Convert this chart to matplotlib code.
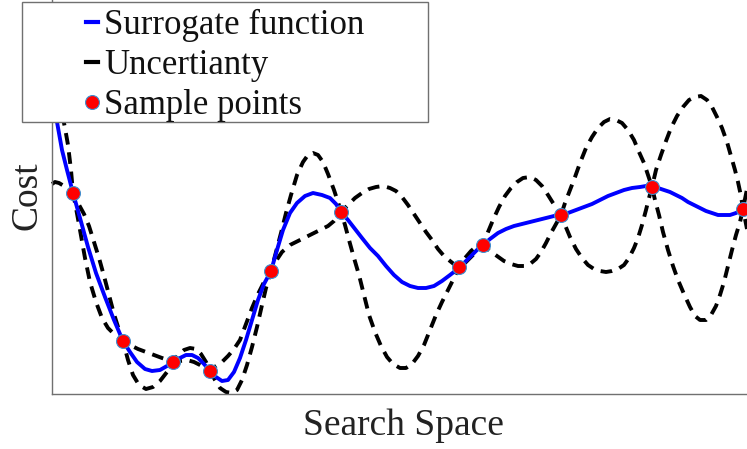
import numpy as np
import matplotlib
matplotlib.use("Agg")
import matplotlib.pyplot as plt
from matplotlib.lines import Line2D
from matplotlib.patches import Rectangle

plt.rcParams['font.family'] = ['Liberation Serif', 'DejaVu Serif']

# values (screen units: x to the right, y downward)
surrogate = [(52, 95), (57, 122), (62, 150), (67, 170), (73, 193), (80, 218), (88, 247),
             (96, 273), (105, 297), (114, 320), (123, 341), (130, 352), (137, 362), (145, 369),
             (152, 371), (160, 370), (167, 366), (173, 362), (180, 358), (186, 355), (192, 355),
             (198, 358), (204, 364), (210, 371), (216, 377), (222, 381), (228, 380), (234, 372),
             (240, 358), (246, 340), (252, 320), (258, 300), (264, 284), (271, 271), (277, 250),
             (283, 230), (290, 213), (297, 203), (305, 196), (313, 193), (322, 195), (330, 198),
             (336, 204), (341, 212), (348, 220), (355, 229), (362, 238), (370, 248), (378, 256),
             (386, 266), (394, 275), (402, 282), (410, 286), (418, 288), (426, 288), (434, 286),
             (442, 281), (450, 275), (459, 268), (465, 262), (471, 256), (477, 250), (483, 245),
             (490, 239), (498, 233), (506, 229), (514, 226), (522, 224), (530, 222), (538, 220),
             (546, 218), (554, 216), (561, 215), (568, 213), (576, 210), (584, 207), (592, 204),
             (600, 200), (608, 196), (616, 193), (624, 190), (632, 188), (640, 187), (646, 186),
             (652, 187), (658, 188), (664, 190), (670, 192), (676, 195), (682, 198), (688, 202),
             (694, 205), (700, 208), (706, 211), (712, 213), (718, 215), (724, 215), (730, 215),
             (736, 213), (743, 209), (747, 206)]

band_a = [(58, 95), (60, 105), (63, 118), (65, 128), (68, 145), (71, 170), (73, 193),
          (76, 208), (80, 230), (85, 258), (90, 282), (96, 302), (102, 318), (108, 328),
          (115, 335), (123, 341),
          (130, 345), (138, 349), (146, 352), (154, 355), (162, 358), (168, 360), (173, 362),
          (180, 361), (187, 360), (194, 362), (200, 365), (205, 368), (210, 371),
          (216, 366), (222, 362), (228, 356), (234, 349), (240, 340), (246, 324), (252, 308),
          (258, 294), (264, 282), (271, 271),
          (276, 261), (282, 252), (290, 245), (300, 240), (310, 235), (320, 230), (328, 226),
          (334, 221), (341, 212),
          (348, 205), (355, 198), (362, 193), (369, 189), (376, 187), (383, 186), (390, 188),
          (396, 191), (402, 197), (408, 205), (414, 214), (420, 223), (426, 232), (432, 240),
          (438, 249), (444, 256), (450, 261), (455, 265), (459, 267),
          (465, 263), (471, 257), (477, 251), (483, 245),
          (488, 232), (493, 220), (499, 207), (505, 196), (511, 188), (517, 182), (523, 178),
          (530, 177), (536, 180), (542, 186), (548, 195), (553, 203), (557, 209), (561, 215),
          (565, 225), (570, 237), (576, 249), (582, 258), (588, 265), (594, 269), (600, 271),
          (606, 272), (612, 271), (618, 269), (624, 265), (629, 258), (634, 248), (638, 238),
          (642, 225), (646, 210), (649, 198), (652, 187),
          (656, 170), (661, 155), (666, 141), (671, 128), (677, 116), (683, 107), (689, 100),
          (695, 97), (701, 96), (707, 100), (712, 107), (717, 117), (722, 128), (727, 142),
          (731, 156), (735, 170), (738, 182), (741, 196), (743, 209),
          (745, 219), (747, 229)]

band_b = [(52, 184), (55, 182), (59, 183), (64, 186), (69, 190), (73, 193),
          (78, 203), (84, 214), (89, 226), (94, 242), (99, 258), (104, 276), (109, 295),
          (114, 314), (119, 330), (123, 341),
          (128, 360), (133, 375), (139, 385), (146, 389), (153, 387), (160, 381), (167, 372),
          (173, 362),
          (178, 355), (184, 350), (190, 348), (196, 349), (201, 354), (206, 362), (210, 371),
          (215, 380), (220, 388), (226, 392), (232, 393), (237, 390), (242, 380), (247, 365),
          (252, 347), (257, 327), (262, 305), (266, 288), (271, 271),
          (276, 252), (281, 233), (286, 213), (291, 195), (297, 175), (303, 162), (308, 155),
          (313, 153), (318, 155), (323, 162), (328, 174), (334, 190), (338, 202), (341, 212),
          (345, 225), (349, 240), (354, 258), (359, 275), (364, 295), (369, 315), (375, 332),
          (381, 346), (387, 357), (393, 364), (400, 368), (406, 368), (412, 364), (418, 356),
          (424, 345), (430, 330), (436, 315), (442, 302), (448, 290), (454, 278), (459, 267),
          (465, 258), (471, 251), (477, 246), (483, 245),
          (490, 251), (497, 256), (504, 261), (511, 264), (518, 266), (524, 266), (530, 264),
          (536, 259), (541, 252), (546, 243), (551, 233), (556, 224), (561, 215),
          (565, 203), (570, 190), (575, 177), (580, 163), (586, 148), (592, 137), (598, 128),
          (604, 122), (610, 119), (616, 120), (622, 123), (628, 130), (634, 140), (639, 152),
          (644, 163), (648, 175), (652, 187),
          (655, 200), (659, 215), (663, 232), (668, 250), (673, 266), (678, 280), (684, 294),
          (690, 307), (695, 316), (700, 320), (706, 320), (711, 315), (716, 306), (720, 295),
          (724, 282), (728, 266), (732, 250), (736, 235), (740, 222), (743, 209),
          (745, 199), (747, 189)]

samples = [(73, 193), (123, 341), (173, 362), (210, 371), (271, 271), (341, 212),
           (459, 267), (483, 245), (561, 215), (652, 187), (743, 209)]

labels = ["Surrogate function", "Uncertianty", "Sample points"]

# screen units -> search space / cost
X0, Y0 = 52, 394


def to_data(pts):
    p = np.array(pts, dtype=float)
    return p[:, 0] - X0, Y0 - p[:, 1]


fig = plt.figure(figsize=(7.47, 4.49), dpi=100)
ax = fig.add_axes([52 / 747, 55 / 449, 695 / 747, 394 / 449])

for band in (band_a, band_b):
    bx, by = to_data(band)
    ax.plot(bx, by, color='black', lw=2.8, linestyle=(0, (3, 2)), clip_on=False, zorder=2)

sx, sy = to_data(surrogate)
ax.plot(sx, sy, color='#0000ff', lw=2.8, clip_on=False, zorder=3,
        solid_joinstyle='round')

px, py = to_data(samples)
ax.plot(px, py, 'o', ms=10, mfc='#ff0000', mec='#3d8fd0', mew=0.8, clip_on=False, zorder=4)

ax.set_xlim(0, 695)
ax.set_ylim(0, 394)
ax.set_xticks([])
ax.set_yticks([])
for side in ('top', 'right'):
    ax.spines[side].set_visible(False)
for side in ('left', 'bottom'):
    ax.spines[side].set_color('#707070')
    ax.spines[side].set_linewidth(1.0)

fig.text(403 / 747, 1 - 426 / 449, "Search Space", fontsize=27, color='#222222',
         ha='center', va='center')
fig.text(27 / 747, 1 - 196 / 449, "Cost", fontsize=27, color='#222222',
         ha='center', va='center', rotation=90)

# legend box
fig.patches.append(Rectangle((22 / 747, 1 - 122 / 449), 406 / 747, 120 / 449,
                             transform=fig.transFigure, facecolor='white',
                             edgecolor='#707070', lw=1.0, zorder=5))
handles = [Line2D([], [], color='#0000ff', lw=3),
           Line2D([], [], color='black', lw=3),
           Line2D([], [], linestyle='none', marker='o', ms=10, mfc='#ff0000',
                  mec='#3d8fd0', mew=0.8)]
leg = fig.legend(handles, labels, loc='upper left', bbox_to_anchor=(86 / 747, 1 - 9 / 449),
                 frameon=False, fontsize=25, handlelength=0.35, handletextpad=0.17,
                 labelspacing=0.2, borderpad=0, borderaxespad=0)
leg.set_zorder(6)
for t in leg.get_texts():
    t.set_color('#111111')

fig.savefig("out.png", dpi=100)
